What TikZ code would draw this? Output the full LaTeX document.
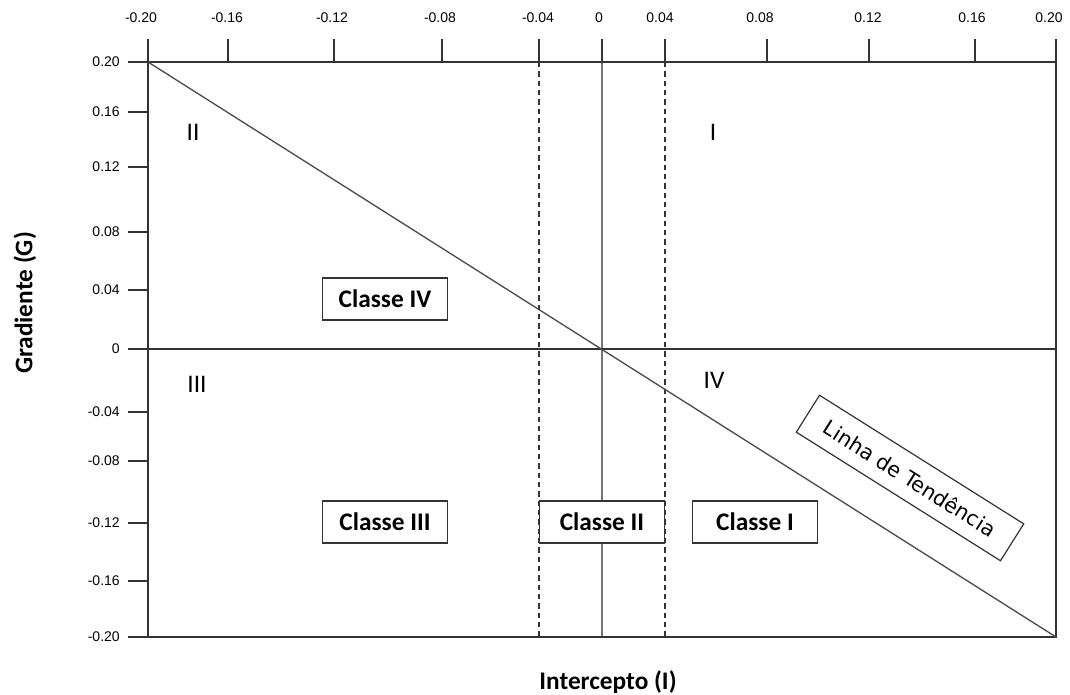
\documentclass[tikz,border=0pt]{standalone}
\usepackage{fontspec}
\setmainfont{Liberation Sans}
\newfontfamily\calibri{Carlito}
\newfontfamily\verdana{DejaVu Sans}
\usetikzlibrary{positioning}

\tikzset{
  frameline/.style={draw=black!80, line width=1pt},
  tickno/.style={font=\fontsize{10.5}{12}\selectfont, inner sep=0pt},
  classbox/.style={draw=black!80, fill=white, line width=0.9pt, minimum width=93.75pt, minimum height=31.5pt, inner sep=0pt, font=\calibri\bfseries\fontsize{19}{20}\selectfont},
  quadrant/.style={font=\calibri\fontsize{19}{20}\selectfont, inner sep=0pt},
  axislabel/.style={font=\calibri\bfseries\fontsize{19}{20}\selectfont, inner sep=0pt}
}

\begin{document}
\begin{tikzpicture}[x=0.75pt, y=-0.75pt]
          \useasboundingbox (0,0) rectangle (1070,695);
          \coordinate (nw) at (148,62);
          \coordinate (ne) at (1056,62);
          \coordinate (sw) at (148,637);
          \coordinate (se) at (1056,637);
          % dashed band and zero line
          \draw[black!80, dashed, dash pattern=on 4pt off 3pt, line width=0.8pt] (539,62) -- (539,637);
          \draw[black!80, dashed, dash pattern=on 4pt off 3pt, line width=0.8pt] (665,62) -- (665,637);
          \draw[black!55, line width=1pt] (602,62) -- (602,637);
          \draw[frameline] (128,349) -- (1056,349);
          \draw[frameline] (nw) -- (ne) -- (se) -- (sw) -- cycle;
          \draw[black!70, line width=1pt] (nw) -- (se);
          % top scale
          \foreach \tx/\lx/\lab in {148/141/-0.20, 228/227/-0.16, 334/332/-0.12, 442/440/-0.08, 539/538/-0.04, 602/599/0, 665/660/0.04, 767/760/0.08, 869/868/0.12, 975/972/0.16, 1056/1049/0.20} {
            \draw[frameline] (\tx,39) -- (\tx,62);
            \node[tickno] (top\tx) at (\lx,18) {\lab};
          }
          % left scale
          \foreach \ty/\lab in {62/0.20, 112/0.16, 167/0.12, 232/0.08, 290/0.04, 349/0, 412/-0.04, 461/-0.08, 523/-0.12, 581/-0.16, 637/-0.20} {
            \draw[frameline] (128,\ty) -- (148,\ty);
            \node[tickno, anchor=east] (left\ty) at (120,\ty) {\lab};
          }
          \node[quadrant] (qII) at (193,132) {II};
          \node[quadrant] (qI) at (713,132) {I};
          \node[quadrant] (qIII) at (197,384) {III};
          \node[quadrant] (qIV) at (714,380) {IV};
          \node[classbox] (classIV) at (385,299) {Classe IV};
          \node[classbox] (classIII) at (385,522) {Classe III};
          \node[classbox] (classII) at (602,522) {Classe II};
          \node[classbox] (classI) at (755,522) {Classe I};
          \node[draw=black!80, fill=white, line width=0.9pt, rotate=-32.2, minimum width=181pt, minimum height=32.7pt, inner sep=0pt, font=\verdana\fontsize{15.5}{17}\selectfont] (trend) at (910,478) {Linha de Tendência};
          \node[axislabel, rotate=90] (gradiente) at (25,303) {Gradiente (G)};
          \node[axislabel] (intercepto) at (608,682) {Intercepto (I)};
      \end{tikzpicture}
\end{document}
